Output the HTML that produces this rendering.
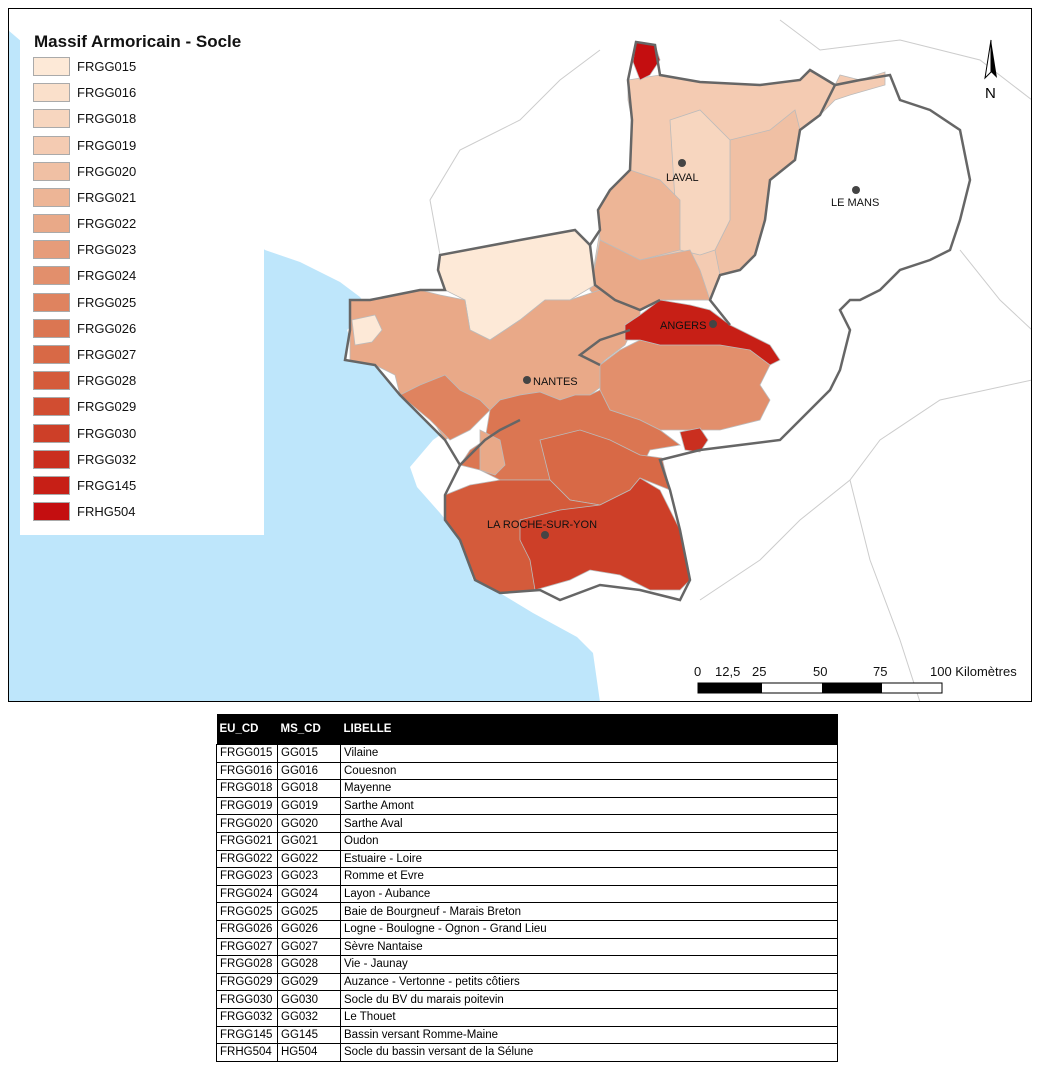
<!DOCTYPE html>
<html><head><meta charset="utf-8"><style>
body{margin:0;background:#fff;width:1044px;height:1080px;position:relative;font-family:"Liberation Sans",sans-serif;overflow:hidden}
#map{position:absolute;left:8px;top:8px;width:1024px;height:694px;border:1px solid #000;box-sizing:border-box;overflow:hidden}
.leg{position:absolute;width:244px;height:507px;background:#fff}
.leg h1{position:absolute;left:14px;top:4px;margin:0;font-size:17px;font-weight:bold;color:#111}
.sw{position:absolute;left:13px;width:37px;height:19px;border:1px solid #aaa;box-sizing:border-box}
.lt{position:absolute;left:57px;font-size:13px;color:#111}
table{position:absolute;left:216px;top:714px;width:622px;border-collapse:collapse;font-size:11.5px}
th{background:#000;color:#fff;text-align:left;height:30px;padding:0 3px;font-size:11.5px}
td{border:1px solid #000;height:16.6px;padding:0 3px;line-height:16px}
</style></head><body>
<div id="map">
<svg width="1024" height="694" viewBox="8 8 1024 694" style="position:absolute;left:-1px;top:-1px">
<polygon fill="#bee6fb" points="8,30 265,250 300,262 340,282 360,297 370,310 347,330 357,357 393,370 440,357 417,370 400,397 447,430 433,440 410,467 417,487 440,513 460,537 473,580 500,593 533,613 577,637 593,653 600,702 8,702"/>
<g stroke="#ccc" fill="none" stroke-width="1">
<path d="M700,600 L760,560 L800,520 L850,480 L880,440 L940,400 L1032,380"/>
<path d="M850,480 L870,560 L900,640 L920,702"/>
<path d="M960,250 L1000,300 L1032,330"/>
<path d="M440,255 L430,200 L460,150 L520,120 L560,80 L600,50"/>
<path d="M780,20 L820,50 L900,40 L980,60 L1032,100"/>
</g>
<polygon fill="#fff" points="636,42 655,45 660,75 700,82 760,85 800,80 810,70 835,85 860,80 890,75 900,100 930,110 960,130 970,180 960,220 950,250 930,260 900,270 880,290 860,300 850,300 840,310 850,330 840,370 830,390 800,420 780,440 740,445 700,450 660,460 670,490 680,530 690,580 680,600 640,590 600,585 560,600 540,590 500,593 475,580 460,540 445,520 445,495 460,465 445,440 400,395 375,365 345,360 350,330 350,300 370,300 420,290 445,290 438,270 440,255 520,240 575,230 590,245 600,230 598,210 610,190 630,170 632,120 628,80"/>
<g stroke="#bbb" stroke-width="0.8">
<polygon fill="#f4cbb2" points="628,80 660,75 700,82 760,85 800,80 810,70 835,85 840,75 860,80 885,72 885,85 850,95 835,100 820,115 800,130 795,160 770,180 765,220 755,255 740,270 720,275 710,300 660,300 640,310 610,310 590,290 600,230 598,210 610,190 630,170 632,120 628,100"/>
<polygon fill="#f0c0a4" points="730,140 770,130 795,110 800,130 795,160 770,180 765,220 755,255 740,270 720,275 715,250 730,220"/>
<polygon fill="#f7d6bf" points="670,120 700,110 730,140 730,220 715,250 700,255 680,250 675,200"/>
<polygon fill="#edb596" points="610,190 630,170 660,180 680,200 680,250 640,260 600,240 598,210"/>
<polygon fill="#e9a988" points="600,240 640,260 690,250 700,270 710,300 660,300 640,310 610,310 590,290"/>
<polygon fill="#fde9d7" points="440,255 470,250 520,240 545,235 575,230 590,245 595,285 570,300 545,300 520,320 490,340 470,330 465,300 445,290 438,270"/>
<polygon fill="#e9a988" points="350,300 370,300 395,295 420,290 440,295 465,300 470,330 490,340 520,320 545,300 570,300 600,290 615,300 640,310 640,320 630,335 625,345 605,360 600,365 610,380 590,395 575,395 560,400 540,392 520,395 500,400 490,410 460,430 445,440 420,400 400,395 395,375 375,365 350,360 350,330"/>
<polygon fill="#fde9d7" points="352,320 375,315 382,330 372,342 355,345"/>
<polygon fill="#e28f6c" points="600,365 620,350 640,340 660,345 700,340 730,345 760,350 770,365 760,385 770,400 760,420 720,430 690,430 660,430 640,420 610,410 600,390"/>
<polygon fill="#c71f16" points="625,325 640,315 660,300 690,305 710,310 730,325 750,335 770,345 780,360 770,365 750,350 720,345 690,345 660,345 640,340 625,340"/>
<polygon fill="#df835f" points="400,395 420,385 445,375 460,390 480,400 490,410 470,430 450,440 430,420"/>
<polygon fill="#db7652" points="490,410 500,400 520,395 540,392 560,400 575,395 590,395 600,390 610,410 640,420 660,430 680,445 650,450 640,470 600,470 560,470 550,480 500,480 480,470 460,465 470,450 485,440"/>
<polygon fill="#e9a988" points="480,430 500,440 505,465 495,475 480,470"/>
<polygon fill="#d86946" points="540,440 580,430 610,440 640,455 662,458 670,490 640,478 630,490 600,505 570,500 550,480"/>
<polygon fill="#d45b3b" points="445,495 470,485 500,480 550,480 570,500 600,505 580,540 560,560 540,590 500,593 475,580 460,540 445,520"/>
<polygon fill="#cd3f28" points="520,520 560,510 600,505 630,490 640,478 660,490 680,530 690,580 680,590 650,590 620,575 590,570 570,580 535,590 530,560 520,540"/>
<polygon fill="#ca2f1f" points="680,432 700,428 708,440 700,452 685,450"/>
<polygon fill="#c40e10" points="636,42 655,45 660,60 650,75 640,80 633,62"/>
</g>
<polygon fill="none" stroke="#666" stroke-width="2.5" points="636,42 655,45 660,75 700,82 760,85 800,80 810,70 835,85 860,80 890,75 900,100 930,110 960,130 970,180 960,220 950,250 930,260 900,270 880,290 860,300 850,300 840,310 850,330 840,370 830,390 800,420 780,440 740,445 700,450 660,460 670,490 680,530 690,580 680,600 640,590 600,585 560,600 540,590 500,593 475,580 460,540 445,520 445,495 460,465 445,440 400,395 375,365 345,360 350,330 350,300 370,300 420,290 445,290 438,270 440,255 520,240 575,230 590,245 600,230 598,210 610,190 630,170 632,120 628,80"/>
<g fill="none" stroke="#666" stroke-width="2.5">
<polyline points="835,85 820,115 800,130 795,160 770,180 765,220 755,255 740,270 720,275 710,300 730,325"/>
<polyline points="590,245 595,285 615,300 640,310 660,300"/>
<polyline points="600,365 580,355 600,340 630,330"/>
<polyline points="460,465 485,440 500,430 520,420"/>
</g>
<g fill="#444"><circle cx="682" cy="163" r="4"/><circle cx="856" cy="190" r="4"/><circle cx="713" cy="324" r="4"/><circle cx="527" cy="380" r="4"/><circle cx="545" cy="535" r="4"/></g>
<g font-size="11" fill="#111" font-family="Liberation Sans,sans-serif">
<text x="666" y="181">LAVAL</text><text x="831" y="206">LE MANS</text><text x="660" y="329">ANGERS</text><text x="533" y="385">NANTES</text><text x="487" y="528">LA ROCHE-SUR-YON</text></g>
<g font-size="13" fill="#111" font-family="Liberation Sans,sans-serif">
<text x="694" y="676">0</text><text x="715" y="676">12,5</text><text x="752" y="676">25</text><text x="813" y="676">50</text><text x="873" y="676">75</text><text x="930" y="676">100 Kilomètres</text></g>
<rect x="698" y="683" width="244" height="10" fill="#fff" stroke="#000"/>
<rect x="698" y="683" width="64" height="10" fill="#000"/><rect x="822" y="683" width="60" height="10" fill="#000"/>
<polygon points="991,40 985,78 991,72" fill="#fff" stroke="#000"/><polygon points="991,40 997,78 991,72" fill="#000"/>
<text x="985" y="98" font-size="15" font-family="Liberation Sans,sans-serif">N</text>
</svg>
<div class="leg" style="left:11px;top:19px"><h1>Massif Armoricain - Socle</h1>
<div class="sw" style="top:29px;background:#fde9d7"></div><div class="lt" style="top:31px">FRGG015</div>
<div class="sw" style="top:55px;background:#fae0cb"></div><div class="lt" style="top:57px">FRGG016</div>
<div class="sw" style="top:81px;background:#f7d6bf"></div><div class="lt" style="top:83px">FRGG018</div>
<div class="sw" style="top:108px;background:#f4cbb2"></div><div class="lt" style="top:110px">FRGG019</div>
<div class="sw" style="top:134px;background:#f0c0a4"></div><div class="lt" style="top:136px">FRGG020</div>
<div class="sw" style="top:160px;background:#edb596"></div><div class="lt" style="top:162px">FRGG021</div>
<div class="sw" style="top:186px;background:#e9a988"></div><div class="lt" style="top:188px">FRGG022</div>
<div class="sw" style="top:212px;background:#e69c7a"></div><div class="lt" style="top:214px">FRGG023</div>
<div class="sw" style="top:238px;background:#e28f6c"></div><div class="lt" style="top:240px">FRGG024</div>
<div class="sw" style="top:265px;background:#df835f"></div><div class="lt" style="top:267px">FRGG025</div>
<div class="sw" style="top:291px;background:#db7652"></div><div class="lt" style="top:293px">FRGG026</div>
<div class="sw" style="top:317px;background:#d86946"></div><div class="lt" style="top:319px">FRGG027</div>
<div class="sw" style="top:343px;background:#d45b3b"></div><div class="lt" style="top:345px">FRGG028</div>
<div class="sw" style="top:369px;background:#d14d31"></div><div class="lt" style="top:371px">FRGG029</div>
<div class="sw" style="top:396px;background:#cd3f28"></div><div class="lt" style="top:398px">FRGG030</div>
<div class="sw" style="top:422px;background:#ca2f1f"></div><div class="lt" style="top:424px">FRGG032</div>
<div class="sw" style="top:448px;background:#c71f16"></div><div class="lt" style="top:450px">FRGG145</div>
<div class="sw" style="top:474px;background:#c40e10"></div><div class="lt" style="top:476px">FRHG504</div>
</div>
</div>
<table>
<tr><th style="width:55px">EU_CD</th><th style="width:57px">MS_CD</th><th>LIBELLE</th></tr>
<tr><td>FRGG015</td><td>GG015</td><td>Vilaine</td></tr>
<tr><td>FRGG016</td><td>GG016</td><td>Couesnon</td></tr>
<tr><td>FRGG018</td><td>GG018</td><td>Mayenne</td></tr>
<tr><td>FRGG019</td><td>GG019</td><td>Sarthe Amont</td></tr>
<tr><td>FRGG020</td><td>GG020</td><td>Sarthe Aval</td></tr>
<tr><td>FRGG021</td><td>GG021</td><td>Oudon</td></tr>
<tr><td>FRGG022</td><td>GG022</td><td>Estuaire - Loire</td></tr>
<tr><td>FRGG023</td><td>GG023</td><td>Romme et Evre</td></tr>
<tr><td>FRGG024</td><td>GG024</td><td>Layon - Aubance</td></tr>
<tr><td>FRGG025</td><td>GG025</td><td>Baie de Bourgneuf - Marais Breton</td></tr>
<tr><td>FRGG026</td><td>GG026</td><td>Logne - Boulogne - Ognon - Grand Lieu</td></tr>
<tr><td>FRGG027</td><td>GG027</td><td>Sèvre Nantaise</td></tr>
<tr><td>FRGG028</td><td>GG028</td><td>Vie - Jaunay</td></tr>
<tr><td>FRGG029</td><td>GG029</td><td>Auzance - Vertonne - petits côtiers</td></tr>
<tr><td>FRGG030</td><td>GG030</td><td>Socle du BV du marais poitevin</td></tr>
<tr><td>FRGG032</td><td>GG032</td><td>Le Thouet</td></tr>
<tr><td>FRGG145</td><td>GG145</td><td>Bassin versant Romme-Maine</td></tr>
<tr><td>FRHG504</td><td>HG504</td><td>Socle du bassin versant de la Sélune</td></tr>
</table>
</body></html>
